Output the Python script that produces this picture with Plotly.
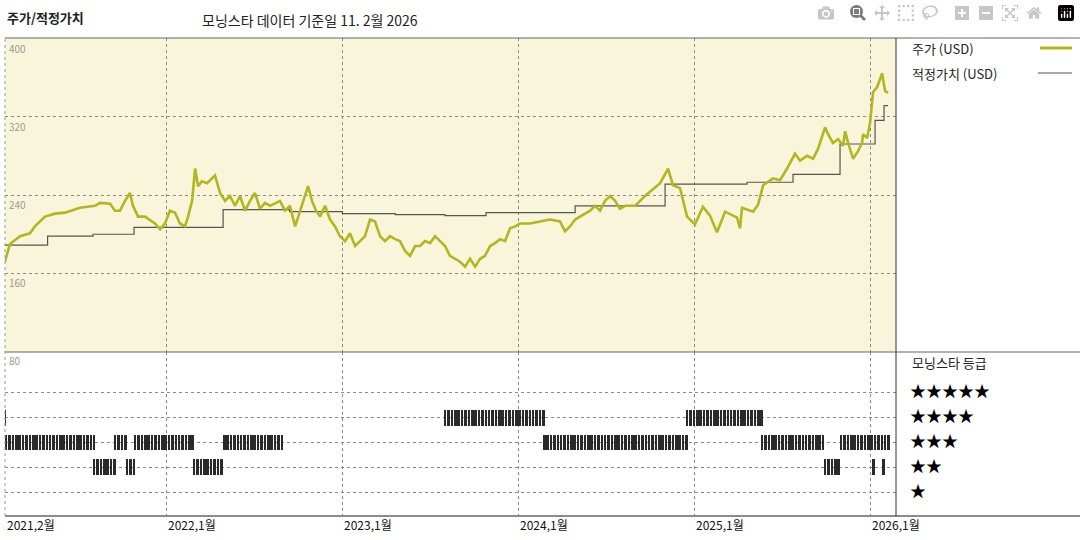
import plotly.graph_objects as go

# ---- data ----
price_t = [2021.083,2021.111,2021.168,2021.225,2021.253,2021.310,2021.367,2021.424,2021.509,2021.594,2021.623,2021.680,2021.708,2021.736,2021.765,2021.793,2021.810,2021.839,2021.878,2021.935,2021.964,2021.992,2022.020,2022.049,2022.077,2022.106,2022.123,2022.146,2022.163,2022.180,2022.202,2022.231,2022.259,2022.276,2022.305,2022.333,2022.361,2022.390,2022.418,2022.447,2022.475,2022.503,2022.532,2022.560,2022.589,2022.645,2022.674,2022.702,2022.731,2022.759,2022.788,2022.805,2022.827,2022.850,2022.873,2022.901,2022.930,2022.958,2022.986,2023.015,2023.043,2023.072,2023.100,2023.128,2023.157,2023.185,2023.214,2023.242,2023.270,2023.299,2023.327,2023.356,2023.384,2023.413,2023.441,2023.469,2023.498,2023.526,2023.555,2023.583,2023.611,2023.640,2023.668,2023.697,2023.725,2023.754,2023.782,2023.810,2023.839,2023.867,2023.896,2023.924,2023.952,2023.981,2024.009,2024.066,2024.123,2024.180,2024.236,2024.265,2024.293,2024.322,2024.350,2024.407,2024.435,2024.464,2024.492,2024.521,2024.549,2024.577,2024.606,2024.663,2024.691,2024.719,2024.805,2024.850,2024.878,2024.918,2024.958,2025.003,2025.048,2025.088,2025.128,2025.174,2025.242,2025.259,2025.270,2025.333,2025.361,2025.390,2025.446,2025.486,2025.526,2025.571,2025.600,2025.640,2025.674,2025.702,2025.742,2025.759,2025.787,2025.816,2025.844,2025.856,2025.873,2025.901,2025.930,2025.952,2025.958,2025.981,2025.998,2026.015,2026.038,2026.066,2026.083,2026.100]
price_v = [172,190,198,201,208,218,221,222,227,229,232,231,224,224,234,242,229,218,218,211,205,211,224,222,211,208,218,234,267,249,254,252,257,260,242,234,239,229,239,224,234,242,226,232,229,234,224,229,208,224,239,249,234,224,218,229,215,208,198,193,201,188,193,198,215,213,198,193,198,195,193,183,178,188,188,193,191,198,193,188,178,175,172,167,175,167,175,178,188,191,195,193,206,208,211,211,213,215,213,203,208,215,218,224,229,224,234,239,234,226,229,229,234,239,252,267,250,247,218,210,228,219,202,223,217,206,227,223,230,250,257,255,267,282,275,280,277,287,309,302,293,297,290,305,293,277,285,293,302,298,314,345,350,364,346,344]

fair_t = [2021.083,2021.325,2021.583,2021.816,2022.322,2022.7,2023.0,2023.3,2023.583,2023.816,2024.322,2024.833,2025.299,2025.560,2025.827,2026.026,2026.077,2026.100]
fair_v = [189,198,200,207,225,223,221,220,219,222,229,251,253,261,292,316,331,331]

# rating segments: start, end, stars
rating_start = [2021.077,2021.083,2021.583,2021.702,2021.770,2021.816,2022.151,2022.322,2023.577,2024.140,2024.952,2025.378,2025.736,2025.827,2026.009,2026.066]
rating_end   = [2021.083,2021.583,2021.702,2021.770,2021.816,2022.151,2022.322,2022.657,2024.140,2024.952,2025.378,2025.736,2025.827,2026.106,2026.013,2026.070]
rating_star  = [4,3,2,3,2,3,2,3,4,3,4,3,2,3,2,2]

x_ticks = [2021.083, 2022, 2023, 2024, 2025, 2026]
x_labels = ["2021,2월", "2022,1월", "2023,1월", "2024,1월", "2025,1월", "2026,1월"]
y_ticks = [80, 160, 240, 320, 400]

# ---- figure ----
FONT = "Noto Sans CJK KR"
XD = [5/1080, 896/1080]
TOP = [1-352/540, 1-38/540]
BOT = [1-516/540, 1-352/540]
XR = [2021.083, 2026.145]

bx, by, bb = [], [], []
wk = 1/52
for s, e, r in zip(rating_start, rating_end, rating_star):
    t = s
    while t < e:
        bx.append(t + wk*0.35); by.append(0.64); bb.append(r - 0.32)
        t += wk

fig = go.Figure()
fig.add_trace(go.Bar(x=bx, y=by, base=bb, width=wk*0.75, marker=dict(color="#2a2a2a", line=dict(width=0)),
                     xaxis="x2", yaxis="y2", showlegend=False))
fig.add_trace(go.Scatter(x=fair_t, y=fair_v, mode="lines", line=dict(color="#555555", width=1.2, shape="hv"),
                         showlegend=False))
fig.add_trace(go.Scatter(x=price_t, y=price_v, mode="lines", line=dict(color="#b3b61c", width=2.6),
                         showlegend=False))

grid = dict(showgrid=True, gridcolor="#8a8a8a", griddash="dot", gridwidth=1, zeroline=False, showticklabels=False, ticks="")
fig.update_layout(
    width=1080, height=540, margin=dict(l=0, r=0, t=0, b=0),
    paper_bgcolor="white", plot_bgcolor="rgba(0,0,0,0)",
    font=dict(family=FONT, color="#222"),
    bargap=0,
    xaxis=dict(domain=XD, range=XR, anchor="y", tickvals=x_ticks[1:], **grid),
    xaxis2=dict(domain=XD, range=XR, anchor="y2", matches="x", tickvals=x_ticks[1:], **grid),
    yaxis=dict(domain=TOP, range=[80, 400], tickvals=y_ticks[1:4], **grid),
    yaxis2=dict(domain=BOT, range=[0.04, 6.64], tickvals=[1, 2, 3, 4, 5], **grid),
)

shapes = [
    dict(type="rect", xref="paper", yref="paper", x0=XD[0], x1=XD[1], y0=TOP[0], y1=TOP[1],
         fillcolor="#f9f5da", line=dict(width=0), layer="below"),
    dict(type="line", xref="paper", yref="paper", x0=XD[0], x1=1, y0=TOP[1], y1=TOP[1], line=dict(color="#666", width=1)),
    dict(type="line", xref="paper", yref="paper", x0=XD[0], x1=1, y0=BOT[0], y1=BOT[0], line=dict(color="#666", width=1.5)),
    dict(type="line", xref="paper", yref="paper", x0=XD[0], x1=1, y0=TOP[0], y1=TOP[0], line=dict(color="#666", width=1)),
    dict(type="line", xref="paper", yref="paper", x0=XD[1], x1=XD[1], y0=BOT[0], y1=TOP[1], line=dict(color="#333", width=1)),
    dict(type="line", xref="paper", yref="paper", x0=XD[0], x1=XD[0], y0=BOT[0], y1=TOP[1], line=dict(color="#999", width=1, dash="dot")),
    dict(type="line", xref="paper", yref="paper", x0=1040/1080, x1=1072/1080, y0=1-48/540, y1=1-48/540, line=dict(color="#b3b61c", width=3)),
    dict(type="line", xref="paper", yref="paper", x0=1038/1080, x1=1072/1080, y0=1-73/540, y1=1-73/540, line=dict(color="#555", width=1.2)),
]
fig.update_layout(shapes=shapes)

ann = [
    dict(text="<b>주가/적정가치</b>", x=5/1080, y=1-18/540, size=13, color="#222"),
    dict(text="모닝스타 데이터 기준일 11. 2월 2026", x=200/1080, y=1-20/540, size=14, color="#222"),
    dict(text="주가 (USD)", x=910/1080, y=1-48/540, size=13, color="#222"),
    dict(text="적정가치 (USD)", x=910/1080, y=1-73/540, size=13, color="#222"),
    dict(text="모닝스타 등급", x=910/1080, y=1-362/540, size=13, color="#222"),
]
for i, n in enumerate([5, 4, 3, 2, 1]):
    ann.append(dict(text="★" * n, x=908/1080, y=1-(390+25*i)/540, size=16, color="#000"))
for v in y_ticks:
    ypx = 38 + (400 - v) * 78 / 80 + 10
    ann.append(dict(text=str(v), x=7/1080, y=1-ypx/540, size=10, color="#999"))
annotations = [dict(text=a["text"], x=a["x"], y=a["y"], xref="paper", yref="paper", xanchor="left", yanchor="middle",
                    showarrow=False, font=dict(size=a["size"], color=a["color"], family=FONT)) for a in ann]
for t, lab in zip(x_ticks, x_labels):
    annotations.append(dict(text=lab, x=t, xref="x2", y=1-524/540, yref="paper", xanchor="left", yanchor="middle",
                            showarrow=False, font=dict(size=12, color="#111", family=FONT)))
fig.update_layout(annotations=annotations)

fig.write_html("out.html", post_script="document.body.style.margin='0';document.body.style.overflow='hidden';")
